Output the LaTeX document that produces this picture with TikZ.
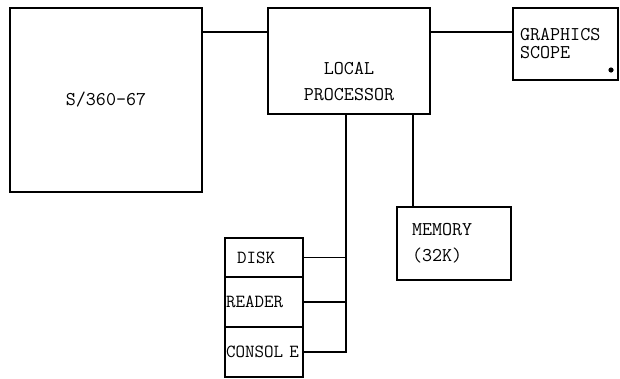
\documentclass[tikz,border=0pt]{standalone}
\usepackage{fontspec}
\usetikzlibrary{positioning}

\begin{document}
\begin{tikzpicture}[x=1pt, y=-1pt,
    box/.style={rectangle, draw=black, line width=1.3pt, outer sep=0pt, inner sep=0pt, align=center, font=\ttfamily\fontsize{19.5}{26}\selectfont},
    cell/.style={box, minimum width=78pt, text width=76pt, inner xsep=1pt, align=left, font=\ttfamily\fontsize{18.5}{22}\selectfont},
    lbl/.style={align=center, inner sep=0pt, font=\ttfamily\fontsize{19.5}{26}\selectfont},
    wire/.style={line width=1.3pt}
]
\useasboundingbox (0,0) rectangle (620,378);

% Host computer
\node[box, minimum width=192pt, minimum height=184pt, anchor=north west] (host) at (10,8) {S/360-67};

% Local processor and scope
\node[box, minimum width=162pt, minimum height=106pt, right=66pt of host.north east, anchor=north west] (lp) {};
\node[lbl] (lptext) at ([yshift=-21pt]lp.center) {LOCAL\\PROCESSOR};
\node[box, minimum width=105pt, minimum height=72pt, right=83pt of lp.north east, anchor=north west,
      align=left, text width=91pt, inner xsep=7pt, font=\ttfamily\fontsize{19.5}{18}\selectfont] (scope) {GRAPHICS\\SCOPE};
\fill ([xshift=-7pt,yshift=10pt]scope.south east) circle (2.6pt);

% Memory
\node[box, minimum width=114pt, minimum height=73pt, anchor=north west, align=left, text width=84pt, inner xsep=15pt] (mem) at (397,207) {MEMORY\\(32K)};

% Peripherals
\node[cell, minimum height=39pt, anchor=north west] (disk) at (225,238) {\hspace*{11pt}DISK};
\node[cell, minimum height=50pt, below=0pt of disk] (reader) {READER};
\node[cell, minimum height=50pt, below=0pt of reader] (console) {CONSOL E};

% Connections
\draw[wire] ([yshift=-24pt]host.north east) -- ([yshift=-24pt]lp.north west);
\draw[wire] ([yshift=-24pt]lp.north east) -- ([yshift=-24pt]scope.north west);
\coordinate (memtap) at ([xshift=16pt]mem.north west);
\draw[wire] (memtap) -- (memtap |- lp.south);
\coordinate (bus) at ([xshift=-3pt]lp.south);
\draw[wire] (bus) |- (console.east);
\draw[wire] (disk.east) -- (disk.east -| bus);
\draw[wire] (reader.east) -- (reader.east -| bus);

\end{tikzpicture}
\end{document}
